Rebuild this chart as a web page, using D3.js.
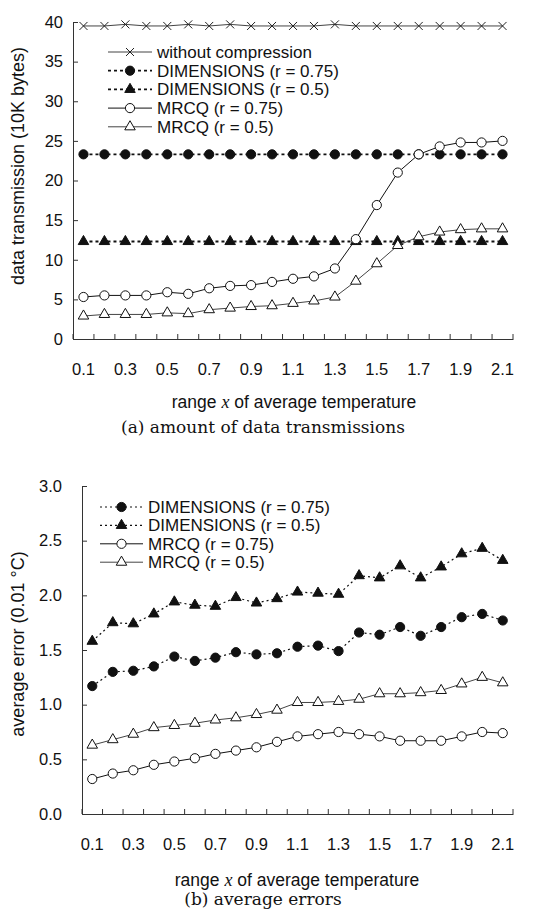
<!DOCTYPE html>
<html>
<head>
<meta charset="utf-8">
<script src="https://cdn.jsdelivr.net/npm/d3@7/dist/d3.min.js"></script>
<style>
  html, body { margin: 0; padding: 0; background: #fff; }
  svg { display: block; }
  text { font-family: "Liberation Sans", Arial, sans-serif; fill: #111; }
</style>
</head>
<body>
<svg id="chart" width="555" height="922"></svg>
<script>
// ---------- data ----------
const categories = ["0.1","0.2","0.3","0.4","0.5","0.6","0.7","0.8","0.9","1.0","1.1",
                    "1.2","1.3","1.4","1.5","1.6","1.7","1.8","1.9","2.0","2.1"];
const xTickLabels = ["0.1","0.3","0.5","0.7","0.9","1.1","1.3","1.5","1.7","1.9","2.1"];

// (a) amount of data transmissions (10K bytes)
const noCompression = [39.5,39.5,39.7,39.5,39.5,39.7,39.5,39.7,39.5,39.5,39.5,39.5,39.7,39.5,39.5,39.5,39.5,39.5,39.5,39.5,39.5];
const dimTrans75 = [23.3,23.3,23.3,23.3,23.3,23.3,23.3,23.3,23.3,23.3,23.3,23.3,23.3,23.3,23.3,23.3,23.3,23.3,23.3,23.3,23.3];
const dimTrans50 = [12.3,12.3,12.3,12.3,12.3,12.3,12.3,12.3,12.3,12.3,12.3,12.3,12.3,12.3,12.3,12.3,12.3,12.3,12.3,12.3,12.3];
const mrcqTrans75 = [5.3,5.5,5.5,5.5,5.9,5.7,6.4,6.7,6.8,7.2,7.6,7.9,8.9,12.6,16.9,21.0,23.3,24.3,24.8,24.8,25.0];
const mrcqTrans50 = [2.9,3.1,3.1,3.1,3.3,3.2,3.7,3.9,4.1,4.2,4.5,4.8,5.3,7.3,9.5,11.8,12.9,13.5,13.8,13.9,13.9];
const transTicks = [0,5,10,15,20,25,30,35,40];

// (b) average errors (0.01 °C)
const dimErr75 = [1.17,1.30,1.31,1.35,1.44,1.40,1.43,1.48,1.46,1.47,1.53,1.54,1.49,1.66,1.64,1.71,1.63,1.71,1.80,1.83,1.77];
const dimErr50 = [1.58,1.75,1.74,1.83,1.94,1.91,1.90,1.98,1.93,1.97,2.03,2.02,2.01,2.18,2.16,2.27,2.16,2.26,2.38,2.43,2.32];
const mrcqErr75 = [0.32,0.37,0.40,0.45,0.48,0.51,0.55,0.58,0.61,0.66,0.71,0.73,0.75,0.73,0.71,0.67,0.67,0.67,0.71,0.75,0.74];
const mrcqErr50 = [0.63,0.68,0.73,0.79,0.81,0.83,0.86,0.88,0.91,0.95,1.02,1.02,1.03,1.05,1.10,1.10,1.11,1.13,1.19,1.25,1.20];
const errTicks = [0,0.5,1.0,1.5,2.0,2.5,3.0];

const nameNoComp = "without compression";
const nameDim75 = "DIMENSIONS (r = 0.75)";
const nameDim50 = "DIMENSIONS (r = 0.5)";
const nameMrcq75 = "MRCQ (r = 0.75)";
const nameMrcq50 = "MRCQ (r = 0.5)";

// ---------- drawing ----------
const svg = d3.select("#chart");

function drawMarker(g, type, cx, cy) {
  if (type === "x") {
    const s = 4;
    g.append("path")
      .attr("d", `M${cx - s},${cy - s}L${cx + s},${cy + s}M${cx - s},${cy + s}L${cx + s},${cy - s}`)
      .attr("stroke", "#222").attr("stroke-width", 1).attr("fill", "none");
  } else if (type === "circleFill" || type === "circleOpen") {
    g.append("circle").attr("cx", cx).attr("cy", cy).attr("r", 4.6)
      .attr("fill", type === "circleFill" ? "#111" : "#fff")
      .attr("stroke", "#111").attr("stroke-width", 1);
  } else if (type === "triFill" || type === "triOpen") {
    g.append("path")
      .attr("d", d3.symbol().type(d3.symbolTriangle).size(48)())
      .attr("transform", `translate(${cx},${cy})`)
      .attr("fill", type === "triFill" ? "#111" : "#fff")
      .attr("stroke", "#111").attr("stroke-width", 1);
  }
}

function drawChart(cfg) {
  const g = svg.append("g");
  const x = d3.scaleBand().domain(categories).range([cfg.left, cfg.right]).padding(0);
  const y = d3.scaleLinear().domain(cfg.domain).range([cfg.bottom, cfg.top]);

  // y axis
  const yAxis = d3.axisLeft(y).tickValues(cfg.yTicks).tickSizeInner(-5).tickSizeOuter(0)
    .tickPadding(cfg.left - cfg.yLabelRight).tickFormat(cfg.yFormat);
  const ya = g.append("g").attr("transform", `translate(${cfg.left},0)`).call(yAxis);
  ya.select(".domain").attr("stroke", "#333");
  ya.selectAll(".tick line").attr("stroke", "#333");
  ya.selectAll("text").style("font-size", "16.5px").attr("fill", "#111");

  // x axis labels (no ticks at centers)
  const xAxis = d3.axisBottom(x).tickValues(xTickLabels).tickSize(0).tickPadding(24);
  const xa = g.append("g").attr("transform", `translate(0,${cfg.bottom})`).call(xAxis);
  xa.select(".domain").attr("stroke", "#333");
  xa.selectAll("text").style("font-size", "16.5px").attr("fill", "#111");

  // x ticks at band boundaries, pointing inward
  const bounds = categories.map(c => x(c)).concat([x(categories[categories.length - 1]) + x.bandwidth()]);
  g.selectAll(".xb").data(bounds).enter().append("line")
    .attr("x1", d => d).attr("x2", d => d)
    .attr("y1", cfg.bottom).attr("y2", cfg.bottom - 5)
    .attr("stroke", "#333");

  const cx = c => x(c) + x.bandwidth() / 2;

  // series
  cfg.series.forEach(s => {
    const line = d3.line().x((d, i) => cx(categories[i])).y(d => y(d));
    g.append("path").datum(s.values).attr("d", line)
      .attr("fill", "none").attr("stroke", s.color || "#111")
      .attr("stroke-width", s.width || 1)
      .attr("stroke-dasharray", s.dash || null);
    s.values.forEach((v, i) => drawMarker(g, s.marker, cx(categories[i]), y(v)));
  });

  // legend
  cfg.series.forEach((s, i) => {
    const ly = cfg.legend.y + i * cfg.legend.step;
    g.append("line").attr("x1", cfg.legend.x0).attr("x2", cfg.legend.x1)
      .attr("y1", ly).attr("y2", ly)
      .attr("stroke", s.color || "#111").attr("stroke-width", s.width || 1)
      .attr("stroke-dasharray", s.dash || null);
    drawMarker(g, s.marker, (cfg.legend.x0 + cfg.legend.x1) / 2, ly);
    g.append("text").attr("x", cfg.legend.tx).attr("y", ly).attr("dy", "0.35em")
      .style("font-size", "17px").text(s.name);
  });

  // y axis title
  g.append("text")
    .attr("transform", `translate(${cfg.yTitleX},${cfg.yTitleY}) rotate(-90)`)
    .attr("text-anchor", "middle").attr("dy", "0.35em")
    .style("font-size", "18px").text(cfg.yTitle);

  // x axis title
  const xt = g.append("text").attr("x", cfg.xTitleX).attr("y", cfg.xTitleY)
    .attr("text-anchor", "middle").attr("dy", "0.35em").style("font-size", "17.5px");
  xt.append("tspan").text("range ");
  xt.append("tspan").style("font-family", "'Liberation Serif', 'Times New Roman', serif")
    .style("font-style", "italic").style("font-size", "18px").text("x");
  xt.append("tspan").text(" of average temperature");

  // caption
  g.append("text").attr("x", cfg.capX).attr("y", cfg.capY)
    .attr("text-anchor", "middle").attr("dy", "0.35em")
    .style("font-family", "'DejaVu Serif', serif").style("font-size", "17px")
    .text(cfg.caption);
}

drawChart({
  left: 73, right: 513, top: 22, bottom: 339, domain: [0, 40],
  yTicks: transTicks, yFormat: d3.format("d"), yLabelRight: 63,
  yTitle: "data transmission (10K bytes)", yTitleX: 18, yTitleY: 166,
  xTitleX: 294, xTitleY: 402, capX: 263, capY: 427,
  caption: "(a) amount of data transmissions",
  legend: { x0: 108, x1: 152, tx: 157, y: 52, step: 18.7 },
  series: [
    { name: nameNoComp, values: noCompression, marker: "x", color: "#444", width: 1 },
    { name: nameDim75, values: dimTrans75, marker: "circleFill", dash: "3,3", width: 1.8 },
    { name: nameDim50, values: dimTrans50, marker: "triFill", dash: "3,3", width: 1.8 },
    { name: nameMrcq75, values: mrcqTrans75, marker: "circleOpen", width: 1 },
    { name: nameMrcq50, values: mrcqTrans50, marker: "triOpen", color: "#444", width: 1 }
  ]
});

drawChart({
  left: 82, right: 513, top: 486, bottom: 814, domain: [0, 3],
  yTicks: errTicks, yFormat: d3.format(".1f"), yLabelRight: 62,
  yTitle: "average error (0.01 °C)", yTitleX: 18, yTitleY: 644,
  xTitleX: 297, xTitleY: 880, capX: 263, capY: 899,
  caption: "(b) average errors",
  legend: { x0: 100, x1: 143, tx: 148, y: 507, step: 18.4 },
  series: [
    { name: nameDim75, values: dimErr75, marker: "circleFill", dash: "2,3", width: 1.2 },
    { name: nameDim50, values: dimErr50, marker: "triFill", dash: "2,3", width: 1.2 },
    { name: nameMrcq75, values: mrcqErr75, marker: "circleOpen", width: 1 },
    { name: nameMrcq50, values: mrcqErr50, marker: "triOpen", color: "#444", width: 1 }
  ]
});
</script>
</body>
</html>
